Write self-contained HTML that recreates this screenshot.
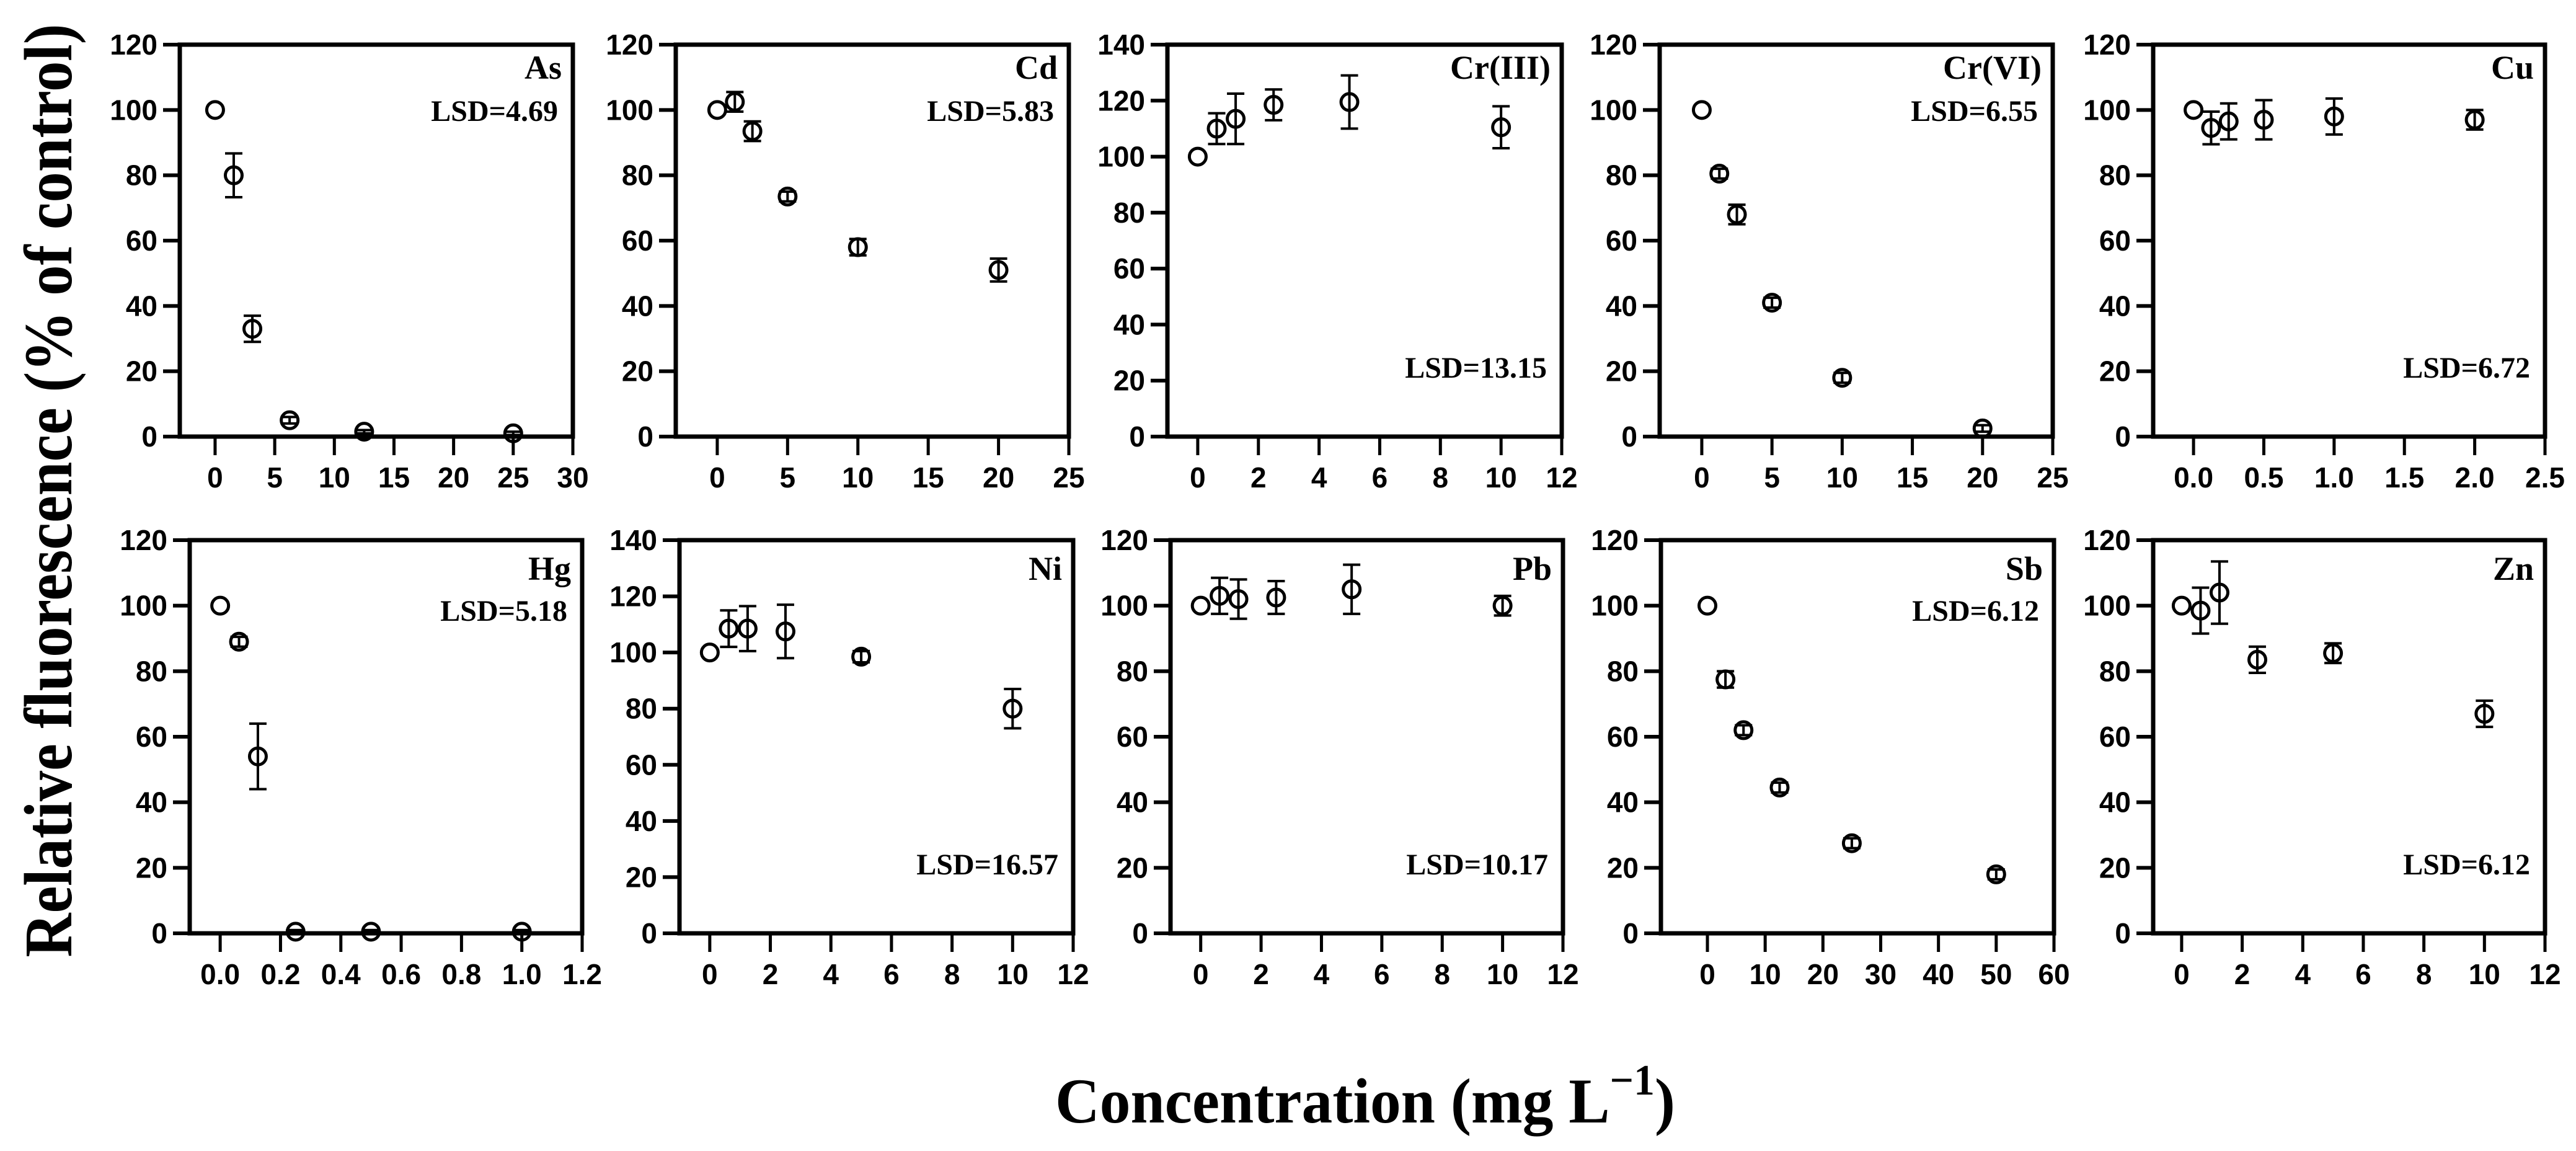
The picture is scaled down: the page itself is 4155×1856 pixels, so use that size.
<!DOCTYPE html>
<html><head><meta charset="utf-8"><style>
html,body{margin:0;padding:0;background:#fff;}
svg{display:block;}
.tick{font-family:"Liberation Sans",Arial,sans-serif;font-weight:bold;font-size:46px;fill:#000;}
.ttl{font-family:"Liberation Serif","Times New Roman",serif;font-weight:bold;fill:#000;}
</style></head><body>
<svg id="fig" xmlns="http://www.w3.org/2000/svg" width="4155" height="1856" viewBox="0 0 4155 1856">
<rect width="4155" height="1856" fill="#fff"/>
<text class="ttl" transform="translate(115,791) rotate(-90)" text-anchor="middle" font-size="110" textLength="1505" lengthAdjust="spacingAndGlyphs">Relative fluorescence (% of control)</text>
<text class="ttl" x="1702" y="1810" font-size="103" textLength="1000" lengthAdjust="spacingAndGlyphs">Concentration (mg L<tspan dy="-45" font-size="70">−1</tspan><tspan dy="45">)</tspan></text>
</svg>
<script>
// ---- data ----
const panelNames = ["As","Cd","Cr(III)","Cr(VI)","Cu","Hg","Ni","Pb","Sb","Zn"];
const lsdLabels = ["LSD=4.69","LSD=5.83","LSD=13.15","LSD=6.55","LSD=6.72","LSD=5.18","LSD=16.57","LSD=10.17","LSD=6.12","LSD=6.12"];
const asX=[0,1.5625,3.125,6.25,12.5,25],  asY=[100,80,33,5,1.5,1],           asErr=[0,6.7,4,1,0.5,0.5];
const cdX=[0,1.25,2.5,5,10,20],           cdY=[100,102.5,93.5,73.5,58,51],   cdErr=[0,3,3,1.5,2.5,3.5];
const cr3X=[0,0.625,1.25,2.5,5,10],       cr3Y=[100,110,113.5,118.5,119.5,110.5], cr3Err=[0,5.5,9,5.5,9.5,7.5];
const cr6X=[0,1.25,2.5,5,10,20],          cr6Y=[100,80.5,68,41,18,2.5],      cr6Err=[0,1.5,3,1.5,1.5,1];
const cuX=[0,0.125,0.25,0.5,1,2],         cuY=[100,94.5,96.5,97,98,97],      cuErr=[0,5,5.5,6,5.5,3];
const hgX=[0,0.0625,0.125,0.25,0.5,1],    hgY=[100,89,54,0.5,0.5,0.5],       hgErr=[0,1.5,10,0.5,0.5,0.5];
const niX=[0,0.625,1.25,2.5,5,10],        niY=[100,108.5,108.5,107.5,98.5,80], niErr=[0,6.5,8,9.5,2,7];
const pbX=[0,0.625,1.25,2.5,5,10],        pbY=[100,103,102,102.5,105,100],   pbErr=[0,5.5,6,5,7.5,3];
const sbX=[0,3.125,6.25,12.5,25,50],      sbY=[100,77.5,62,44.5,27.5,18],    sbErr=[0,2.5,1.5,1.5,1.5,1.5];
const znX=[0,0.625,1.25,2.5,5,10],        znY=[100,98.5,104,83.5,85.5,67],   znErr=[0,7,9.5,4,3,4];
const xTickLabels = [
 ["0","5","10","15","20","25","30"],["0","5","10","15","20","25"],["0","2","4","6","8","10","12"],
 ["0","5","10","15","20","25"],["0.0","0.5","1.0","1.5","2.0","2.5"],["0.0","0.2","0.4","0.6","0.8","1.0","1.2"],
 ["0","2","4","6","8","10","12"],["0","2","4","6","8","10","12"],["0","10","20","30","40","50","60"],["0","2","4","6","8","10","12"]];
const xMins=[-2.96,-2.95,-1.0,-3.0,-0.287,-0.101,-1.0,-1.0,-8.05,-0.94];
const yMaxes=[120,120,140,120,120,120,140,120,120,120];
const lsdBottom=[false,false,true,false,true,false,true,true,false,true];
const seriesX=[asX,cdX,cr3X,cr6X,cuX,hgX,niX,pbX,sbX,znX];
const seriesY=[asY,cdY,cr3Y,cr6Y,cuY,hgY,niY,pbY,sbY,znY];
const seriesE=[asErr,cdErr,cr3Err,cr6Err,cuErr,hgErr,niErr,pbErr,sbErr,znErr];

// ---- layout ----
const boxL=[290,1090,1883,2677,3473,306,1096,1888,2679,3473];
const boxR=[924,1724,2519,3311,4105,939,1731,2521,3313,4105];
const rowTop=[72,871], rowZero=[704,1505], titleOff=[55,64], lsdOff=[123,130];

const NS="http://www.w3.org/2000/svg";
const svg=document.getElementById('fig');
function mk(tag,attrs,parent){const e=document.createElementNS(NS,tag);for(const k in attrs)e.setAttribute(k,attrs[k]);(parent||svg).appendChild(e);return e;}

panelNames.forEach((nm,i)=>{
  const row=i<5?0:1;
  const L=boxL[i],R=boxR[i],T=rowTop[row],B=rowZero[row];
  const labs=xTickLabels[i];
  const xMax=parseFloat(labs[labs.length-1]);
  const xs=v=>L+(v-xMins[i])/(xMax-xMins[i])*(R-L);
  const ys=v=>B-v/yMaxes[i]*(B-T);
  const g=mk('g',{});
  
  
  const frame=mk('rect',{x:L,y:T,width:R-L,height:B-T,fill:'none',stroke:'#000','stroke-width':7},g);
  
  
  for(let v=0;v<=yMaxes[i];v+=20){
    const y=ys(v);
    const t=mk('line',{x1:L-27,x2:L,y1:y,y2:y,stroke:'#000','stroke-width':6},g);
    
    
    const tx=mk('text',{x:L-36,y:y+16,'text-anchor':'end',class:'tick'},g);
    tx.textContent=String(v);
    
    
  }
  labs.forEach(lb=>{
    const x=xs(parseFloat(lb));
    const t=mk('line',{x1:x,x2:x,y1:B,y2:B+30,stroke:'#000','stroke-width':5},g);
    
    
    const tx=mk('text',{x:x,y:B+82,'text-anchor':'middle',class:'tick'},g);
    tx.textContent=lb;
    
    
  });
  const tt=mk('text',{x:R-18,y:T+titleOff[row],'text-anchor':'end',class:'ttl','font-size':54},g);
  tt.textContent=nm;
  
  
  const ly=lsdBottom[i]?B-95:T+lsdOff[row];
  const ls=mk('text',{x:R-24,y:ly,'text-anchor':'end',class:'ttl','font-size':48},g);
  ls.textContent=lsdLabels[i];
  
  
  const X=seriesX[i],Y=seriesY[i],E=seriesE[i];
  X.forEach((xv,j)=>{
    const cx=xs(xv),cy=ys(Y[j]);
    if(E[j]>0){
      const y1=ys(Y[j]+E[j]),y2=ys(Y[j]-E[j]);
      const eb=mk('path',{d:`M${cx},${y1}V${y2}M${cx-14},${y1}H${cx+14}M${cx-14},${y2}H${cx+14}`,stroke:'#000','stroke-width':4,fill:'none'},g);
      
      
    }
    const c=mk('circle',{cx:cx,cy:cy,r:13.5,fill:'none',stroke:'#000','stroke-width':5},g);
    
    
  });
});
</script>
</body></html>
